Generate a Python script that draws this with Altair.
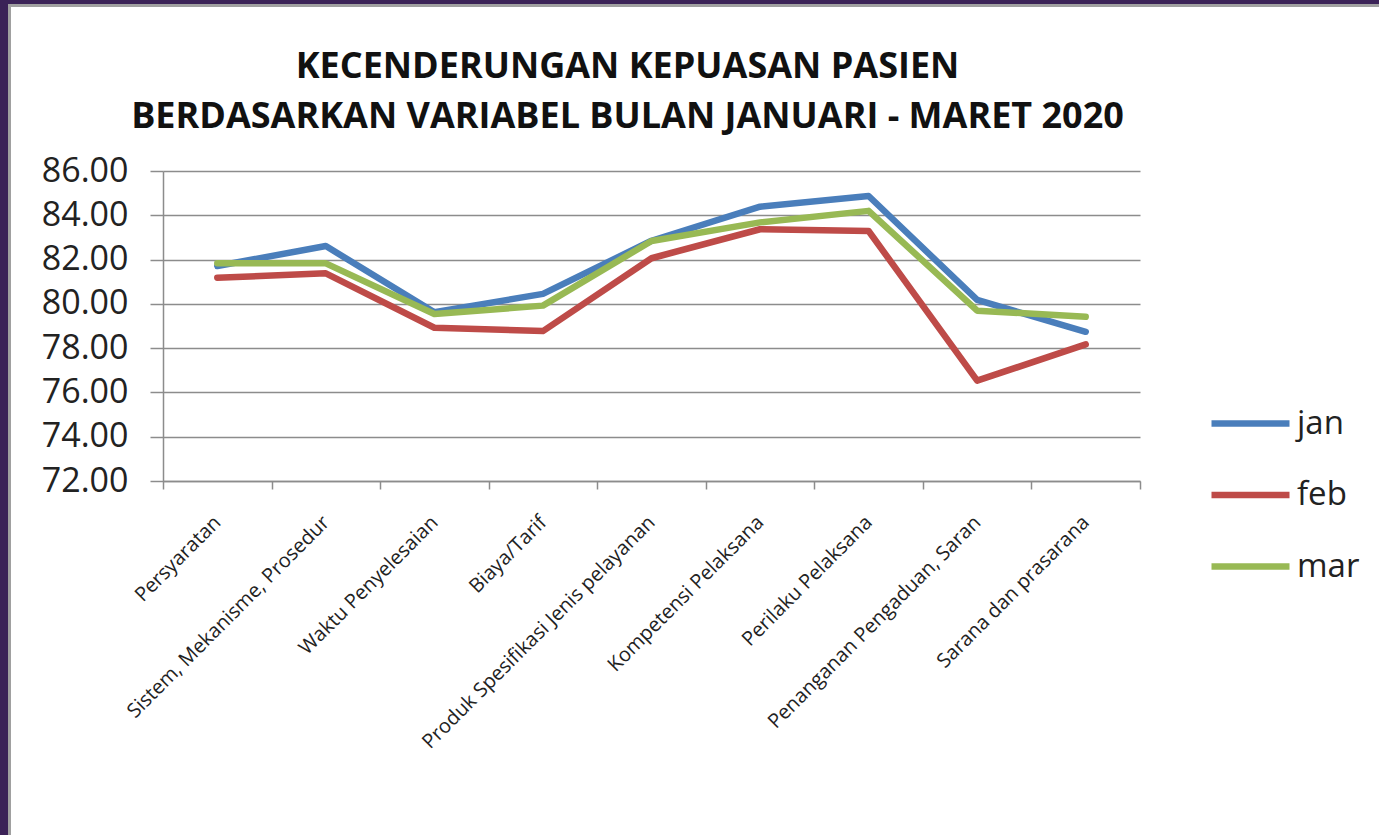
import altair as alt
import pandas as pd

categories = [
    "Persyaratan",
    "Sistem, Mekanisme, Prosedur",
    "Waktu Penyelesaian",
    "Biaya/Tarif",
    "Produk Spesifikasi Jenis pelayanan",
    "Kompetensi Pelaksana",
    "Perilaku Pelaksana",
    "Penanganan Pengaduan, Saran",
    "Sarana dan prasarana",
]
jan = [81.71, 82.61, 79.62, 80.45, 82.85, 84.39, 84.87, 80.18, 78.74]
feb = [81.18, 81.38, 78.92, 78.77, 82.06, 83.37, 83.29, 76.53, 78.17]
mar = [81.83, 81.83, 79.54, 79.92, 82.84, 83.68, 84.20, 79.69, 79.42]
series = ["jan", "feb", "mar"]
colors = ["#4A7EBB", "#BE4B48", "#98B954"]
y_ticks = [72, 74, 76, 78, 80, 82, 84, 86]

rows = []
for name, vals in zip(series, [jan, feb, mar]):
    for c, v in zip(categories, vals):
        rows.append({"kategori": c, "nilai": v, "bulan": name})
df = pd.DataFrame(rows)

W, H = 977, 310
PL, PT = 163, 171
TOTAL_W, TOTAL_H = 1379, 835
GRID = "#8c8c8c"
FONT = "Open Sans"

lines = alt.Chart(df).mark_line(strokeWidth=6.5, strokeCap="round", strokeJoin="round").encode(
    x=alt.X(
        "kategori:N",
        sort=categories,
        bandPosition=0.5,
        scale=alt.Scale(type="band", paddingInner=0, paddingOuter=0),
        axis=alt.Axis(
            title=None, labelAngle=-45, labelAlign="right", labelBaseline="middle",
            labelFontSize=20, labelFont=FONT, labelColor="#222", labelPadding=30,
            labelLimit=0, tickBand="extent", tickSize=8, tickColor=GRID, tickWidth=1.5,
            domainColor=GRID, domainWidth=1.5, grid=False,
        ),
    ),
    y=alt.Y(
        "nilai:Q",
        scale=alt.Scale(domain=[72, 86], nice=False, zero=False),
        axis=alt.Axis(
            title=None, values=y_ticks, format=".2f", labelFontSize=34, labelFont=FONT,
            labelColor="#222", labelPadding=22, tickSize=13, tickColor=GRID, tickWidth=1.5,
            domainColor=GRID, domainWidth=1.5, grid=True, gridColor=GRID, gridWidth=1.5,
        ),
    ),
    color=alt.Color(
        "bulan:N",
        sort=series,
        scale=alt.Scale(domain=series, range=colors),
        legend=alt.Legend(
            title=None, orient="none", legendX=1045, legendY=210, padding=0,
            symbolType="stroke", symbolSize=6084, symbolStrokeWidth=6.5,
            labelFontSize=33, labelFont=FONT, labelColor="#222", labelOffset=4,
            rowPadding=11.5,
        ),
    ),
)

frame_src = alt.Data(values=[{"k": 1}])
purple = "#3B2257"
border = "#A0A0A0"
left_strip = alt.Chart(frame_src).mark_rect(color=purple).encode(
    x=alt.value(-PL), x2=alt.value(-PL + 8), y=alt.value(-PT), y2=alt.value(TOTAL_H - PT)
)
top_strip = alt.Chart(frame_src).mark_rect(color=purple).encode(
    x=alt.value(-PL), x2=alt.value(TOTAL_W - PL), y=alt.value(-PT), y2=alt.value(-PT + 4)
)
left_grey = alt.Chart(frame_src).mark_rect(color=border).encode(
    x=alt.value(-PL + 8), x2=alt.value(-PL + 11), y=alt.value(-PT + 4), y2=alt.value(TOTAL_H - PT)
)
top_grey = alt.Chart(frame_src).mark_rect(color=border).encode(
    x=alt.value(-PL + 8), x2=alt.value(TOTAL_W - PL), y=alt.value(-PT + 4), y2=alt.value(-PT + 7)
)

chart = alt.layer(lines, left_strip, top_strip, left_grey, top_grey).properties(
    width=W,
    height=H,
    title=alt.TitleParams(
        ["KECENDERUNGAN KEPUASAN PASIEN", "BERDASARKAN VARIABEL BULAN JANUARI - MARET 2020"],
        fontSize=36, font=FONT, fontWeight="bold", color="#111", anchor="middle",
        dx=-24, dy=136, offset=0, lineHeight=50,
    ),
    autosize=alt.AutoSizeParams(type="none"),
    padding={"left": PL, "top": PT, "right": TOTAL_W - PL - W, "bottom": TOTAL_H - PT - H},
    background="white",
).configure_view(stroke=None)

chart.save("out.html", embed_options={"renderer": "svg", "actions": False})
